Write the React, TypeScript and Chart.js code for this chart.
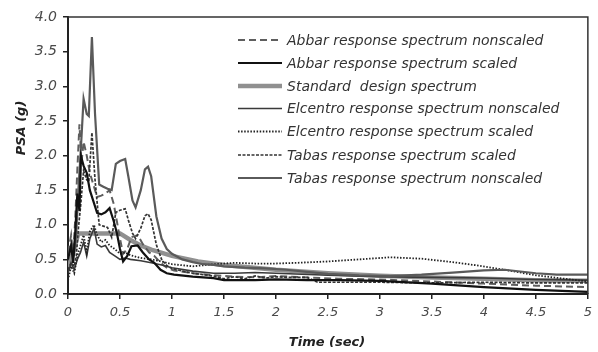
import React, { useEffect, useRef } from "react";
import { Chart, registerables } from "chart.js";

Chart.register(...registerables);

// ---- Data ----
const xTicks = [0, 0.5, 1, 1.5, 2, 2.5, 3, 3.5, 4, 4.5, 5];
const yTicks = [0, 0.5, 1, 1.5, 2, 2.5, 3, 3.5, 4];

const abbarNonscaledT = [0, 0.03, 0.05, 0.07, 0.09, 0.11, 0.13, 0.15, 0.18, 0.21, 0.24, 0.28, 0.32, 0.36, 0.4, 0.44, 0.47, 0.5, 0.53, 0.57, 0.61, 0.67, 0.72, 0.78, 0.83, 0.89, 0.95, 1.02, 1.2, 1.4, 1.6, 1.8, 2.0, 2.3, 2.6, 3.0, 3.5, 4.0, 4.5, 5.0];
const abbarNonscaledV = [0.6, 0.85, 0.55, 1.1, 1.8, 2.45, 1.9, 2.2, 2.0, 1.75, 1.6, 1.4, 1.42, 1.45, 1.5, 1.3, 1.05, 0.8, 0.58, 0.65, 0.82, 0.85, 0.72, 0.6, 0.55, 0.45, 0.38, 0.34, 0.3, 0.27, 0.25, 0.24, 0.26, 0.24, 0.22, 0.21, 0.18, 0.15, 0.12, 0.1];

const abbarScaledT = [0, 0.03, 0.05, 0.07, 0.09, 0.11, 0.125, 0.15, 0.18, 0.21, 0.24, 0.28, 0.32, 0.36, 0.4, 0.44, 0.47, 0.5, 0.53, 0.57, 0.61, 0.67, 0.72, 0.78, 0.83, 0.89, 0.95, 1.02, 1.2, 1.4, 1.5, 1.8, 2.0, 2.3, 2.6, 3.0, 3.5, 4.0, 4.5, 5.0];
const abbarScaledV = [0.5, 0.7, 0.45, 0.9, 1.45, 1.2, 1.99, 1.85, 1.75, 1.5, 1.36, 1.17, 1.15, 1.18, 1.24, 1.05, 0.88, 0.65, 0.47, 0.55, 0.69, 0.7, 0.6, 0.5, 0.45, 0.35, 0.3, 0.28, 0.25, 0.23, 0.2, 0.2, 0.21, 0.2, 0.2, 0.19, 0.15, 0.1, 0.06, 0.03];

const standardT = [0, 0.1, 0.5, 0.6, 0.7, 0.8, 1.0, 1.25, 1.5, 2.0, 2.5, 3.0, 3.5, 4.0, 4.5, 5.0];
const standardV = [0.35, 0.875, 0.875, 0.78, 0.7, 0.64, 0.55, 0.47, 0.42, 0.35, 0.3, 0.265, 0.24, 0.22, 0.2, 0.19];

const elcentroNonscaledT = [0, 0.03, 0.06, 0.09, 0.12, 0.15, 0.18, 0.21, 0.25, 0.28, 0.32, 0.36, 0.4, 0.45, 0.5, 0.55, 0.6, 0.7, 0.8, 0.9, 1.0, 1.2, 1.4, 1.6, 1.8, 2.0, 2.5, 3.0, 3.5, 4.0, 4.5, 5.0];
const elcentroNonscaledV = [0.3, 0.45, 0.35, 0.5, 0.6, 0.75, 0.55, 0.8, 0.95, 0.72, 0.68, 0.7, 0.6, 0.55, 0.5, 0.52, 0.5, 0.48, 0.45, 0.42, 0.38, 0.33, 0.3, 0.3, 0.31, 0.3, 0.27, 0.25, 0.24, 0.23, 0.21, 0.2];

const elcentroScaledT = [0, 0.03, 0.06, 0.09, 0.12, 0.15, 0.18, 0.21, 0.25, 0.28, 0.32, 0.36, 0.4, 0.45, 0.5, 0.55, 0.6, 0.7, 0.8, 0.9, 1.0, 1.2, 1.4, 1.6, 1.8, 2.0, 2.2, 2.5, 2.8, 3.1, 3.4, 3.7, 3.9, 4.2, 4.5, 5.0];
const elcentroScaledV = [0.2, 0.4, 0.3, 0.55, 0.7, 0.85, 0.6, 0.9, 1.0, 0.85, 0.75, 0.78, 0.7, 0.65, 0.58, 0.6, 0.56, 0.52, 0.5, 0.47, 0.43, 0.4, 0.43, 0.45, 0.44, 0.44, 0.45, 0.47, 0.5, 0.53, 0.51, 0.46, 0.42, 0.35, 0.27, 0.18];

const tabasScaledT = [0, 0.03, 0.06, 0.08, 0.1, 0.12, 0.15, 0.18, 0.2, 0.23, 0.26, 0.3, 0.34, 0.38, 0.42, 0.46, 0.5, 0.55, 0.58, 0.62, 0.65, 0.7, 0.74, 0.77, 0.8, 0.85, 0.9, 0.95, 1.0, 1.1, 1.2, 1.3, 1.4, 1.5, 1.6, 1.7, 1.8, 1.9, 2.0, 2.1, 2.3, 2.4, 3.0, 3.5, 4.0, 4.5, 5.0];
const tabasScaledV = [0.35, 0.45, 0.4, 0.55, 0.95, 1.25, 1.78, 1.65, 1.62, 2.33, 1.65, 1.0, 0.98, 0.96, 0.82, 1.18, 1.21, 1.23, 1.07, 0.88, 0.8, 0.95, 1.13, 1.16, 1.07, 0.71, 0.5, 0.41, 0.37, 0.33, 0.3, 0.28, 0.26, 0.22, 0.25, 0.22, 0.26, 0.23, 0.25, 0.24, 0.24, 0.17, 0.17, 0.16, 0.17, 0.16, 0.16];

const tabasNonscaledT = [0, 0.03, 0.06, 0.08, 0.1, 0.12, 0.15, 0.18, 0.2, 0.23, 0.26, 0.3, 0.34, 0.38, 0.42, 0.46, 0.5, 0.55, 0.58, 0.62, 0.65, 0.7, 0.74, 0.77, 0.8, 0.85, 0.9, 0.95, 1.0, 1.1, 1.2, 1.3, 1.4, 1.5, 1.7, 1.9, 2.1, 2.3, 2.5, 2.8, 3.1, 3.4, 3.7, 4.0, 4.2, 4.5, 4.7, 5.0];
const tabasNonscaledV = [0.55, 0.7, 0.6, 0.9, 1.5, 2.0, 2.82, 2.6, 2.57, 3.71, 2.6, 1.58, 1.55, 1.52, 1.5, 1.88, 1.92, 1.95, 1.7, 1.35, 1.25, 1.5, 1.8, 1.84, 1.7, 1.12, 0.8, 0.65, 0.58, 0.5, 0.46, 0.43, 0.42, 0.4, 0.38, 0.37, 0.35, 0.32, 0.29, 0.27, 0.26, 0.28, 0.31, 0.34, 0.35, 0.3, 0.28, 0.28];

const seriesNames = [
  "Abbar response spectrum nonscaled",
  "Abbar response spectrum scaled",
  "Standard  design spectrum",
  "Elcentro response spectrum nonscaled",
  "Elcentro response spectrum scaled",
  "Tabas response spectrum scaled",
  "Tabas response spectrum nonscaled",
];

const xTitle = "Time (sec)";
const yTitle = "PSA (g)";

const pts = (t: number[], v: number[]) => t.map((x, i) => ({ x, y: v[i] }));

const styles = [
  { color: "#5e5e5e", width: 2, dash: [7, 4] },
  { color: "#111111", width: 2.2, dash: [] as number[] },
  { color: "#909090", width: 4.5, dash: [] as number[] },
  { color: "#3a3a3a", width: 1.6, dash: [] as number[] },
  { color: "#222222", width: 1.8, dash: [1.5, 1.6] },
  { color: "#333333", width: 1.7, dash: [3, 1.5] },
  { color: "#5a5a5a", width: 2.2, dash: [] as number[] },
];

const FONT = "'DejaVu Sans', 'Liberation Sans', Arial, sans-serif";

const decorPlugin = {
  id: "decor",
  afterDraw(chart: any) {
    const { ctx, chartArea } = chart;
    const { left, top, right, bottom } = chartArea;
    ctx.save();
    // frame top & right
    ctx.strokeStyle = "#333";
    ctx.lineWidth = 1.5;
    ctx.beginPath();
    ctx.moveTo(left, top);
    ctx.lineTo(right, top);
    ctx.lineTo(right, bottom);
    ctx.stroke();

    // legend
    const rowY = [40, 63, 86, 108.5, 131.5, 155, 178];
    seriesNames.forEach((name, i) => {
      const s = styles[i];
      ctx.strokeStyle = s.color;
      ctx.lineWidth = s.width;
      ctx.setLineDash(s.dash);
      ctx.beginPath();
      ctx.moveTo(238, rowY[i]);
      ctx.lineTo(282, rowY[i]);
      ctx.stroke();
      ctx.setLineDash([]);
      ctx.fillStyle = "#333333";
      ctx.font = `oblique 14px ${FONT}`;
      ctx.textAlign = "left";
      ctx.textBaseline = "middle";
      ctx.fillText(name, 287, rowY[i] + 1);
    });

    // axis titles
    ctx.fillStyle = "#222222";
    ctx.font = `oblique bold 13px ${FONT}`;
    ctx.textAlign = "center";
    ctx.textBaseline = "middle";
    ctx.fillText(xTitle, 327, 343);
    ctx.translate(22, 128);
    ctx.rotate(-Math.PI / 2);
    ctx.fillText(yTitle, 0, 0);
    ctx.restore();
  },
};

export default function App() {
  const ref = useRef<HTMLCanvasElement | null>(null);
  useEffect(() => {
    if (!ref.current) return;
    const data = [
      pts(abbarNonscaledT, abbarNonscaledV),
      pts(abbarScaledT, abbarScaledV),
      pts(standardT, standardV),
      pts(elcentroNonscaledT, elcentroNonscaledV),
      pts(elcentroScaledT, elcentroScaledV),
      pts(tabasScaledT, tabasScaledV),
      pts(tabasNonscaledT, tabasNonscaledV),
    ];
    // draw order: standard beneath others
    const order = [2, 0, 3, 4, 5, 6, 1];
    const chart = new Chart(ref.current, {
      type: "line",
      data: {
        datasets: seriesNames.map((name, i) => ({
          label: name,
          data: data[i],
          borderColor: styles[i].color,
          borderWidth: styles[i].width,
          borderDash: styles[i].dash,
          pointRadius: 0,
          fill: false,
          tension: 0,
          order: order.length - order.indexOf(i),
        })),
      },
      options: {
        animation: false,
        responsive: false,
        maintainAspectRatio: false,
        layout: { padding: { top: 17, right: 6, left: 0, bottom: 0 } },
        plugins: { legend: { display: false }, tooltip: { enabled: false }, title: { display: false } },
        scales: {
          x: {
            type: "linear",
            min: 0,
            max: 5,
            afterBuildTicks: (scale: any) => {
              scale.ticks = xTicks.map((v) => ({ value: v }));
            },
            afterFit: (scale: any) => {
              scale.height = 58;
            },
            ticks: {
              autoSkip: false,
              maxRotation: 0,
              padding: 6,
              color: "#4a4a4a",
              font: { family: FONT, size: 13, style: "oblique" },
              callback: (v: any) => String(v),
            },
            grid: { display: true, drawOnChartArea: false, drawTicks: true, tickLength: 5, color: "#222", lineWidth: 1.5 },
            border: { display: true, color: "#222", width: 2 },
          },
          y: {
            type: "linear",
            min: 0,
            max: 4,
            afterBuildTicks: (scale: any) => {
              scale.ticks = yTicks.map((v) => ({ value: v }));
            },
            afterFit: (scale: any) => {
              scale.width = 68;
            },
            ticks: {
              autoSkip: false,
              padding: 6,
              color: "#4a4a4a",
              font: { family: FONT, size: 14, style: "oblique" },
              callback: (v: any) => Number(v).toFixed(1),
            },
            grid: { display: true, drawOnChartArea: false, drawTicks: true, tickLength: 5, color: "#222", lineWidth: 1.5 },
            border: { display: true, color: "#222", width: 2 },
          },
        },
      },
      plugins: [decorPlugin],
    } as any);
    return () => chart.destroy();
  }, []);
  return (
    <div style={{ position: "fixed", left: 0, top: 0, width: 598, height: 352, background: "#fff" }}>
      <canvas ref={ref} width={598} height={352} style={{ width: 598, height: 352, display: "block" }} />
    </div>
  );
}
